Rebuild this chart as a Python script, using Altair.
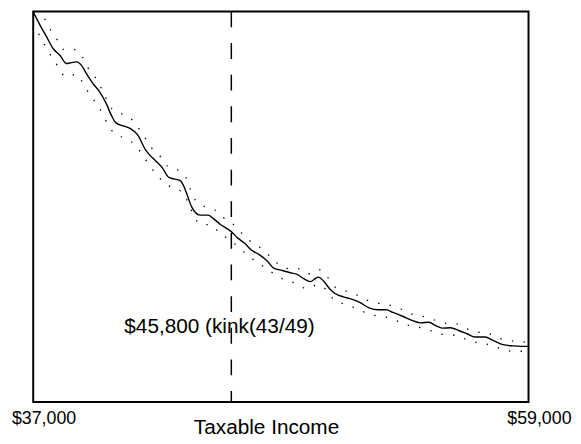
import altair as alt
import pandas as pd

# ---- data ----
curve_x = [37000, 37307, 37602, 37891, 38186, 38480, 38699, 38919, 39138, 39358,
           39648, 39942, 40236, 40456, 40675, 41040, 41334, 41624, 41993, 42138,
           42432, 42722, 43016, 43235, 43530, 43674, 43819, 44039, 44408, 44772,
           44992, 45286, 45796, 46090, 46384, 46674, 47043, 47407, 47701, 48066,
           48373, 48724, 49018, 49308, 49528, 49677, 49897, 50187, 50406, 50775,
           51140, 51504, 51943, 52312, 52676, 52971, 53410, 53849, 54213, 54578,
           54872, 55166, 55531, 55895, 56264, 56628, 57068, 57432, 57871, 58310,
           58679, 59000]
curve_y = [99.9, 96.45, 93.42, 90.45, 88.78, 86.66, 86.91, 87.09, 86.25, 84.13,
           81.59, 79.49, 76.53, 73.59, 71.47, 70.63, 69.95, 68.53, 64.56, 63.47,
           61.77, 60.08, 57.54, 57.14, 56.71, 55.44, 53.34, 49.95, 47.85, 47.85,
           47.01, 45.57, 43.62, 41.95, 40.68, 38.99, 37.72, 36.02, 34.18, 33.67,
           33.16, 32.66, 31.57, 30.81, 31.57, 31.97, 30.96, 28.86, 27.77, 26.91,
           26.33, 25.49, 24.05, 23.62, 23.62, 22.96, 21.95, 20.84, 20.25, 20.43,
           19.57, 18.91, 18.99, 18.30, 17.47, 16.63, 16.63, 15.77, 14.68, 14.35,
           14.25, 14.25]

upper_x = [37000, 37527, 37777, 38067, 38361, 38831, 39182, 39428, 39753, 39999,
           40236, 40482, 40939, 41378, 41698, 41993, 42283, 42651, 42972, 43455,
           43793, 43969, 44188, 44584, 45036, 45431, 45870, 46235, 46604, 47043,
           47438, 47816, 48285, 48724, 49238, 49677, 50072, 50380, 50876, 51359,
           51829, 52312, 52821, 53335, 53805, 54314, 54771, 55281, 55794, 56264,
           56773, 57256, 57757, 58266, 58780, 59000]
upper_y = [103.29, 97.90, 95.26, 92.73, 90.20, 90.20, 88.35, 85.64, 83.11, 80.58,
           77.80, 75.19, 73.75, 72.33, 69.95, 67.42, 64.89, 62.86, 60.33, 59.24,
           57.39, 54.61, 51.82, 50.13, 49.29, 47.27, 45.57, 43.37, 41.34, 39.67,
           37.72, 35.62, 34.18, 34.18, 32.83, 33.92, 31.97, 29.54, 28.43, 27.42,
           26.08, 25.32, 24.81, 23.80, 22.53, 21.95, 21.09, 20.18, 20.00, 18.73,
           17.90, 17.47, 16.20, 15.62, 15.37, 15.37]

lower_x = [37000, 37307, 37558, 37821, 38111, 38436, 38919, 39240, 39503, 39824,
           40087, 40307, 40632, 41084, 41523, 41962, 42432, 42796, 43205, 43675,
           43894, 44114, 44408, 44891, 45286, 45725, 46120, 46498, 46924, 47363,
           47934, 48549, 49164, 49603, 50042, 50362, 50845, 51328, 51798, 52312,
           52821, 53291, 53805, 54288, 54771, 55281, 55794, 56264, 56773, 57256,
           57757, 58266, 58780, 59000]
lower_y = [96.96, 93.59, 90.88, 88.35, 85.82, 83.29, 83.87, 81.34, 78.81, 76.28,
           73.75, 71.06, 68.68, 67.52, 65.82, 62.28, 58.56, 56.28, 54.76, 53.59,
           50.81, 48.02, 45.57, 45.32, 43.21, 41.52, 39.67, 37.72, 35.87, 34.18,
           31.90, 30.63, 29.04, 29.95, 28.61, 26.15, 25.06, 24.05, 22.78, 21.95,
           21.52, 20.43, 19.42, 18.91, 18.05, 17.22, 17.04, 15.95, 15.11, 14.68,
           13.67, 12.99, 12.99, 12.99]

kink = [45800]
kink_label = ["$45,800 (kink(43/49)"]
x_ticks = [37000, 59000]
x_title = "Taxable Income"

# ---- chart ----
FONT = "Liberation Sans, Arial, Helvetica, sans-serif"

curve_df = pd.DataFrame({"income": curve_x, "value": curve_y})
upper_df = pd.DataFrame({"income": upper_x, "value": upper_y})
lower_df = pd.DataFrame({"income": lower_x, "value": lower_y})
kink_df = pd.DataFrame({"income": kink, "label": kink_label})

x_enc = alt.X(
    "income:Q",
    scale=alt.Scale(domain=[37000, 59000], nice=False, zero=False),
    axis=alt.Axis(
        values=x_ticks, format="$,.0f", title=x_title,
        domain=False, ticks=False, tickSize=0, grid=False,
        labelFlush=False, labelOverlap=False, labelBound=False,
        labelOffset=10.5, labelPadding=22, labelBaseline="alphabetic",
        labelAlign="center", labelFontSize=18, labelFont=FONT, labelColor="black",
        titleFontSize=21, titleFont=FONT, titleFontWeight="normal", titleColor="black",
        titleX=235.5, titleY=32, titleBaseline="alphabetic", titleAlign="center",
    ),
)
y_enc = alt.Y("value:Q", scale=alt.Scale(domain=[0, 100], nice=False, zero=False), axis=None)

curve = alt.Chart(curve_df).mark_line(
    color="black", strokeWidth=1.4, interpolate="monotone", clip=True
).encode(x=x_enc, y=y_enc)

upper = alt.Chart(upper_df).mark_line(
    color="black", strokeWidth=1.3, strokeDash=[1.4, 10.4], interpolate="monotone", clip=True
).encode(x=x_enc, y=y_enc)

lower = alt.Chart(lower_df).mark_line(
    color="black", strokeWidth=1.3, strokeDash=[1.4, 10.4], interpolate="monotone", clip=True
).encode(x=x_enc, y=y_enc)

rule = alt.Chart(kink_df).mark_rule(
    color="black", strokeWidth=1.5, strokeDash=[16, 16]
).encode(x=x_enc)

label = alt.Chart(kink_df).mark_text(
    align="center", baseline="alphabetic", dx=-12, fontSize=21, font=FONT, color="black"
).encode(x=x_enc, y=alt.value(325), text="label:N")

chart = alt.layer(curve, upper, lower, rule, label).properties(
    width=501, height=395,
    autosize=alt.AutoSizeParams(type="none"),
    padding={"left": 25.5, "top": 1, "right": 45, "bottom": 38},
    background="white",
).configure_view(stroke="black", strokeWidth=2)

chart.save("out.html", embed_options={"renderer": "svg", "actions": False})
